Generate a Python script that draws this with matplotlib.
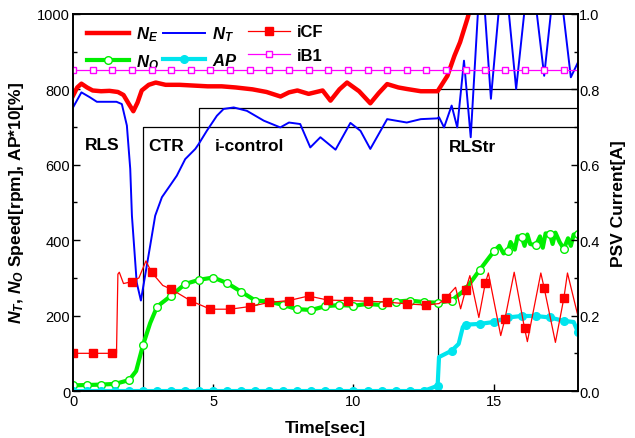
import numpy as np
import matplotlib
matplotlib.use("Agg")
import matplotlib.pyplot as plt
from matplotlib.ticker import MultipleLocator, FormatStrFormatter

# ---------------------------------------------------------------------------
# Data

# engine speed N_E [rpm]
t_ne = [0, 0.15, 0.3, 0.5, 0.7, 1.0, 1.3, 1.6, 1.8, 2.0, 2.15, 2.3, 2.45, 2.7, 2.95,
        3.3, 3.8, 4.3, 4.8, 5.3, 5.8, 6.4, 6.9, 7.4, 7.7, 8.0, 8.4, 8.9, 9.18, 9.5,
        9.77, 10.2, 10.6, 10.9, 11.2, 11.6, 11.9, 12.4, 13.0, 13.35, 13.6, 13.8,
        14.06, 14.3, 14.6, 18.0]
ne = [783, 805, 815, 805, 797, 795, 796, 793, 785, 760, 742, 765, 797, 812, 818,
      812, 812, 810, 808, 808, 805, 800, 793, 781, 792, 797, 788, 797, 770, 800,
      818, 795, 763, 790, 814, 805, 801, 795, 795, 836, 889, 925,
      987, 1050, 1100, 1100]

# turbine speed N_T [rpm]
t_nt = [0, 0.3, 0.6, 0.85, 1.55, 1.74, 1.92, 2.04, 2.1, 2.27, 2.42, 2.57, 2.75, 2.93,
        3.17, 3.46, 3.7, 4.0, 4.36, 4.48, 4.77, 5.13, 5.37, 5.73, 6.2, 6.8, 7.39,
        7.7, 8.1, 8.46, 8.82, 9.36, 9.89, 10.25, 10.6, 11.2, 11.9, 12.4, 12.99,
        13.05, 13.23, 13.5, 13.7, 13.94, 14.18, 14.55, 14.9, 15.35, 15.8, 16.3,
        16.8, 17.25, 17.75, 18.0]
nt = [752, 792, 779, 767, 767, 761, 704, 589, 465, 288, 240, 306, 385, 465,
      514, 545, 571, 615, 642, 655, 690, 730, 748, 752, 743, 717, 699,
      712, 708, 646, 673, 640, 711, 690, 642, 721, 712, 721, 723,
      726, 699, 757, 699, 876, 673, 1150, 775, 1150, 801, 1150,
      836, 1150, 832, 871]

# output speed N_O [rpm]
t_no = [0, 0.5, 1.0, 1.5, 2.0, 2.25, 2.5, 2.75, 3.0, 3.5, 4.0, 4.5, 5.0, 5.5, 6.0,
        6.5, 7.0, 7.5, 8.0, 8.5, 9.0, 9.5, 10.0, 10.5, 11.0, 11.5, 12.0, 12.5,
        13.0, 13.5, 14.0, 14.5, 15.0, 15.2, 15.35, 15.5, 15.6, 15.75, 15.85,
        16.0, 16.1, 16.2, 16.3, 16.5, 16.65, 16.75, 16.85, 17.0, 17.1, 17.2,
        17.35, 17.5, 17.65, 17.75, 17.85, 18.0]
no = [15, 16, 17, 19, 29, 53, 123, 180, 224, 253, 284, 295, 301, 286, 263,
      240, 237, 228, 217, 215, 225, 228, 226, 231, 228, 237, 240, 236,
      234, 240, 270, 321, 370, 385, 365, 370, 395, 375, 410, 408, 385, 415,
      390, 386, 410, 380, 418, 417, 390, 420, 395, 377, 405, 385, 415, 417]

# accelerator pedal AP*10 [%]
t_ap = [0, 0.5, 1.0, 1.5, 2.0, 2.5, 3.0, 3.5, 4.0, 4.5, 5.0, 5.5, 6.0, 6.5, 7.0,
        7.5, 8.0, 8.5, 9.0, 9.5, 10.0, 10.5, 11.0, 11.5, 12.0, 12.5, 13.0, 13.05,
        13.5, 13.75, 13.9, 14.0, 14.5, 15.0, 15.5, 16.0, 16.5, 17.0, 17.5, 17.85, 18.0]
ap = [0, 0, 0, 0, 0, 0, 0, 0, 0, 0, 0, 0, 0, 0, 0,
      0, 0, 0, 0, 0, 0, 0, 0, 0, 0, 0, 14, 90,
      107, 125, 170, 176, 178, 183, 195, 199, 199, 195, 186, 183, 157]

# solenoid currents [A]
t_icf = [0, 0.7, 1.4, 1.55, 1.6, 1.65, 1.8, 2.1, 2.35, 2.6, 2.8, 3.2, 3.5, 4.2, 4.9,
         5.6, 6.3, 7.0, 7.7, 8.4, 9.1, 9.8, 10.5, 11.2, 11.9, 12.6, 13.05, 13.3,
         13.64, 13.82, 14.0, 14.15, 14.47, 14.7, 14.81, 15.25, 15.4, 15.73, 16.1,
         16.2, 16.68, 16.8, 17.2, 17.5, 17.63, 18.0]
icf = [0.1, 0.1, 0.1, 0.1, 0.31, 0.315, 0.285, 0.29, 0.30, 0.345, 0.315, 0.28, 0.27,
       0.239, 0.217, 0.217, 0.224, 0.235, 0.24, 0.252, 0.241, 0.24, 0.238, 0.236,
       0.231, 0.228, 0.232, 0.247, 0.275, 0.218, 0.269, 0.306, 0.195, 0.286,
       0.313, 0.147, 0.191, 0.315, 0.166, 0.131, 0.313, 0.273, 0.129, 0.246,
       0.313, 0.2]

t_ib1 = [0.7 * i for i in range(26)] + [18.0]
ib1 = [0.85] * 27


def every(times, step):
    return [i for i, t in enumerate(times) if abs(t / step - round(t / step)) < 1e-6]


# ---------------------------------------------------------------------------
# Plot

plt.rcParams['font.family'] = 'Liberation Sans'
plt.rcParams['mathtext.fontset'] = 'custom'
plt.rcParams['mathtext.it'] = 'Liberation Sans:bold:italic'
plt.rcParams['mathtext.rm'] = 'Liberation Sans:bold'
plt.rcParams['mathtext.bf'] = 'Liberation Sans:bold'

fig = plt.figure(figsize=(6.35, 4.39), dpi=100)
ax1 = fig.add_axes([0.115, 0.107, 0.795, 0.859])
ax2 = ax1.twinx()

# region boxes
ax1.plot([2.5, 2.5, 18], [0, 700, 700], color='black', lw=0.9)
ax1.plot([4.5, 4.5, 18], [0, 750, 750], color='black', lw=0.9)
ax1.plot([13, 13, 18], [0, 800, 800], color='black', lw=0.9)

l_ne, = ax1.plot(t_ne, ne, color='red', lw=3.2, label='$N_E$')
l_nt, = ax1.plot(t_nt, nt, color='blue', lw=1.4, label='$N_T$')
l_no, = ax1.plot(t_no, no, color='#00ee00', lw=3, marker='o', ms=5.5, mfc='white',
                 mec='#00ee00', mew=1, markevery=every(t_no, 0.5), label='$N_O$')
l_ap, = ax1.plot(t_ap, ap, color='#00e5ee', lw=3, marker='o', ms=5.5,
                 markevery=every(t_ap, 0.5), label='$AP$')

l_icf, = ax2.plot(t_icf, icf, color='red', lw=0.9, marker='s', ms=6,
                  markevery=every(t_icf, 0.7), label='iCF')
l_ib1, = ax2.plot(t_ib1, ib1, color='#ff00ff', lw=0.9, marker='s', ms=5, mfc='white',
                  mec='#ff00ff', mew=1, markevery=every(t_ib1, 0.7), label='iB1')

# region labels
lab = dict(fontsize=12.5, fontweight='bold', va='center')
ax1.text(0.43, 655, 'RLS', **lab)
ax1.text(2.69, 650, 'CTR', **lab)
ax1.text(5.07, 650, 'i-control', **lab)
ax1.text(13.4, 648, 'RLStr', **lab)

ax1.set_xlim(0, 18)
ax1.set_ylim(0, 1000)
ax2.set_ylim(0, 1.0)

ax1.set_xticks([0, 5, 10, 15])
ax1.yaxis.set_major_locator(MultipleLocator(200))
ax1.yaxis.set_minor_locator(MultipleLocator(100))
ax2.yaxis.set_major_locator(MultipleLocator(0.2))
ax2.yaxis.set_minor_locator(MultipleLocator(0.1))
ax2.yaxis.set_major_formatter(FormatStrFormatter('%.1f'))

for ax in (ax1, ax2):
    ax.tick_params(which='both', direction='in', labelsize=10.5, width=1)
    ax.tick_params(which='major', length=5)
    ax.tick_params(which='minor', length=3)
    for s in ax.spines.values():
        s.set_linewidth(1.2)
ax1.tick_params(axis='both', pad=2)
ax2.tick_params(axis='y', pad=1)

ax1.set_xlabel('Time[sec]', fontsize=12.5, fontweight='bold', labelpad=9)
ax1.set_ylabel('$N_T$, $N_O$ Speed[rpm], AP*10[%]', fontsize=12.5,
               fontweight='bold', labelpad=8)
ax2.set_ylabel('PSV Current[A]', fontsize=12.5, fontweight='bold', labelpad=8)

leg1 = ax1.legend(handles=[l_ne, l_no, l_nt, l_ap], ncol=2, loc='upper left',
                  bbox_to_anchor=(0.015, 0.99), frameon=False, fontsize=12,
                  handlelength=2.5, handletextpad=0.4, columnspacing=0.3,
                  labelspacing=0.55, borderaxespad=0)
leg2 = ax2.legend(handles=[l_icf, l_ib1], loc='upper left',
                  bbox_to_anchor=(0.334, 0.99), frameon=False, fontsize=12,
                  handlelength=2.5, handletextpad=0.4, labelspacing=0.5,
                  borderaxespad=0)
for txt in leg2.get_texts():
    txt.set_fontweight('bold')

fig.savefig('out.png', dpi=100)
